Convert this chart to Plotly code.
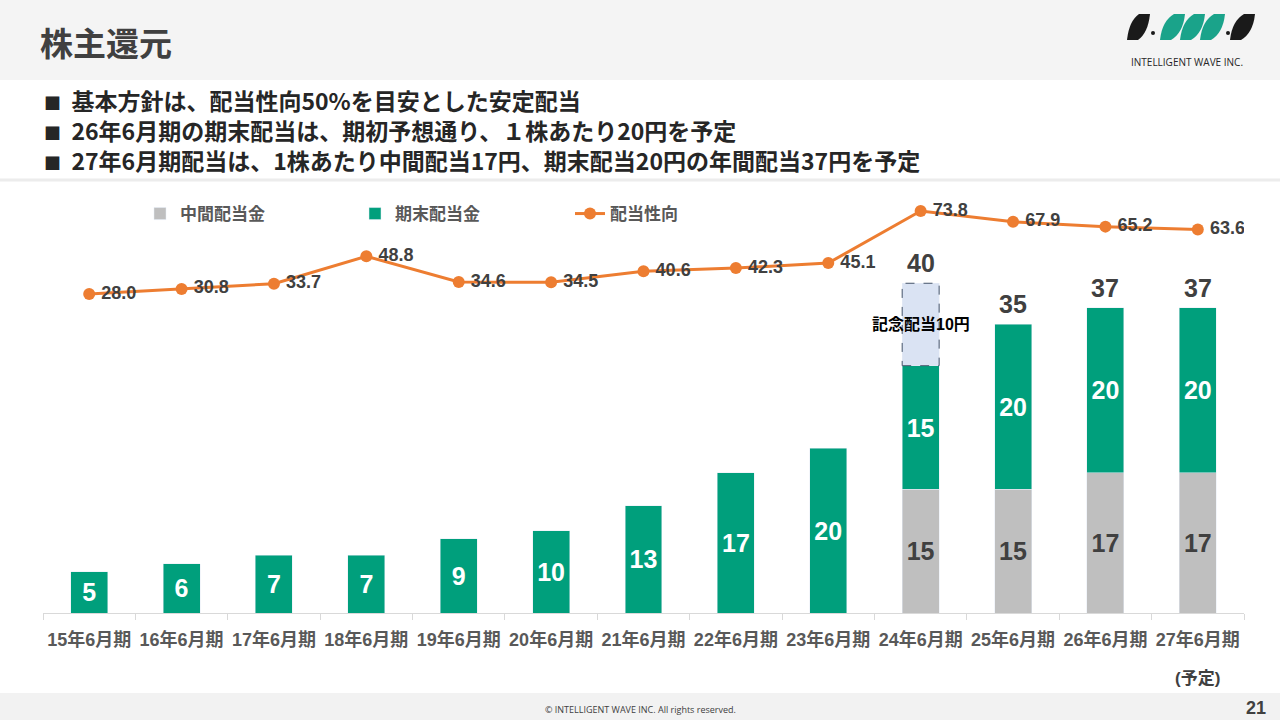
import plotly.graph_objects as go

W, H = 1280, 720

categories = ["15年6月期", "16年6月期", "17年6月期", "18年6月期", "19年6月期", "20年6月期",
              "21年6月期", "22年6月期", "23年6月期", "24年6月期", "25年6月期", "26年6月期", "27年6月期"]
interim = [None, None, None, None, None, None, None, None, None, 15, 15, 17, 17]
year_end = [5, 6, 7, 7, 9, 10, 13, 17, 20, 15, 20, 20, 20]
commemorative = [None, None, None, None, None, None, None, None, None, 10, None, None, None]
payout_ratio = [28.0, 30.8, 33.7, 48.8, 34.6, 34.5, 40.6, 42.3, 45.1, 73.8, 67.9, 65.2, 63.6]
total_labels = [None, None, None, None, None, None, None, None, None, 40, 35, 37, 37]

bullets = [
    "基本方針は、配当性向50%を目安とした安定配当",
    "26年6月期の期末配当は、期初予想通り、１株あたり20円を予定",
    "27年6月期配当は、1株あたり中間配当17円、期末配当20円の年間配当37円を予定",
]

GREEN = "#009f7c"
GRAY = "#bfbfbf"
ORANGE = "#ed7d31"
DARK = "#404040"
NARROW = "Liberation Sans Narrow, Arial Narrow, Liberation Sans, Noto Sans CJK JP"
JP = "Noto Sans CJK JP, Noto Sans, sans-serif"
BAR_W = 0.4


def px(x, y):
    return f"{x / W:.5f},{1 - y / H:.5f}"


def bold(s):
    return f"<b>{s}</b>"


def stacked_tops():
    return [(a or 0) + (b or 0) + (c or 0) for a, b, c in zip(interim, year_end, commemorative)]


fig = go.Figure()

fig.add_bar(
    x=categories, y=interim, name=bold("中間配当金"), marker_color=GRAY, width=BAR_W,
    text=[bold(v) if v else "" for v in interim], textposition="inside",
    insidetextanchor="middle", textfont=dict(size=25, color=DARK, family=NARROW),
    hoverinfo="skip",
)
fig.add_bar(
    x=categories, y=year_end, name=bold("期末配当金"), marker_color=GREEN, width=BAR_W,
    text=[bold(v) for v in year_end], textposition="inside",
    insidetextanchor="middle", textfont=dict(size=25, color="white", family=NARROW),
    hoverinfo="skip",
)
fig.add_bar(
    x=categories, y=commemorative, name="記念配当", marker_color="#dae3f3", width=BAR_W,
    showlegend=False, hoverinfo="skip",
)
fig.add_scatter(
    x=categories, y=payout_ratio, name=bold("配当性向"), yaxis="y2", mode="lines+markers+text",
    line=dict(color=ORANGE, width=3), marker=dict(color=ORANGE, size=12),
    text=[bold(f"\u2009{v:.1f}") for v in payout_ratio], textposition="middle right",
    textfont=dict(size=18, color=DARK, family=NARROW), hoverinfo="skip",
)

shapes = [
    dict(type="rect", xref="paper", yref="paper", x0=0, x1=1, y0=1 - 80 / H, y1=1,
         fillcolor="#f4f4f4", line_width=0, layer="below"),
    dict(type="rect", xref="paper", yref="paper", x0=0, x1=1, y0=0, y1=1 - 693 / H,
         fillcolor="#f2f2f2", line_width=0, layer="below"),
    dict(type="line", xref="paper", yref="paper", x0=0, x1=1, y0=1 - 180 / H, y1=1 - 180 / H,
         line=dict(color="#ececec", width=3), layer="below"),
]

# dashed outline around the commemorative dividend segment
for i, c in enumerate(commemorative):
    if c:
        base = (interim[i] or 0) + year_end[i]
        shapes.append(dict(type="rect", xref="x", yref="y", x0=i - BAR_W / 2, x1=i + BAR_W / 2,
                           y0=base, y1=base + c, line=dict(color="#44546a", width=1, dash="dash")))

# logo marks
logo_leaves = [(1127, 1150, "#1a1a1a"), (1160, 1185, "#1aa38a"), (1180, 1205, "#1aa38a"),
               (1200, 1225, "#1aa38a"), (1230, 1255, "#1a1a1a")]
for xb, xt, color in logo_leaves:
    path = (f"M {px(xb, 40)} Q {px(xb + 2, 21)} {px(xt - 11, 14)} L {px(xt, 14)} "
            f"Q {px(xt - 2, 33)} {px(xb + 11, 40)} Z")
    shapes.append(dict(type="path", xref="paper", yref="paper", path=path,
                       fillcolor=color, line_width=0))
for cx, cy in [(1153, 33), (1228, 33)]:
    shapes.append(dict(type="circle", xref="paper", yref="paper",
                       x0=(cx - 2) / W, x1=(cx + 2) / W, y0=1 - (cy + 2) / H, y1=1 - (cy - 2) / H,
                       fillcolor="#1a1a1a", line_width=0))

square = '<span style="font-size:17px">■</span>'
annotations = [
    dict(text=bold("株主還元"), x=38 / W, y=1 - 42 / H, xanchor="left", yanchor="middle",
         font=dict(size=33, color=DARK, family=JP)),
    dict(text="INTELLIGENT WAVE INC.", x=1187 / W, y=1 - 62 / H, xanchor="center", yanchor="middle",
         font=dict(size=10, color="#262626", family="Open Sans, Liberation Sans")),
    dict(text="© INTELLIGENT WAVE INC. All rights reserved.", x=640 / W, y=1 - 709 / H,
         xanchor="center", yanchor="middle", font=dict(size=9, color=DARK, family="Open Sans")),
    dict(text=bold("21"), x=1268 / W, y=1 - 708 / H, xanchor="right", yanchor="middle",
         font=dict(size=18, color=DARK, family="Liberation Sans")),
    dict(text=bold("(予定)"), x=categories[-1], xref="x", y=1 - 678 / H, xanchor="center",
         yanchor="middle", font=dict(size=17, color=DARK, family=NARROW)),
    dict(text="<br>".join(bold(square + "\u00a0 " + line) for line in bullets), x=42 / W,
         y=1 - 130 / H, xanchor="left", yanchor="middle", align="left",
         font=dict(size=23, color="#262626", family=JP)),
]
tops = stacked_tops()
for i, label in enumerate(total_labels):
    if label:
        annotations.append(dict(text=bold(label), x=categories[i], xref="x", y=tops[i], yref="y",
                                yanchor="middle", yshift=20,
                                font=dict(size=25, color=DARK, family=NARROW)))
for i, c in enumerate(commemorative):
    if c:
        base = (interim[i] or 0) + year_end[i]
        annotations.append(dict(text=bold(f"記念配当{c}円"), x=categories[i], xref="x",
                                y=base + c * 0.5, yref="y",
                                font=dict(size=16, color="black", family=NARROW)))
for a in annotations:
    a.setdefault("xref", "paper")
    a.setdefault("yref", "paper")
    a.setdefault("showarrow", False)

fig.update_layout(
    width=W, height=H, margin=dict(l=0, r=0, t=0, b=0),
    paper_bgcolor="white", plot_bgcolor="white",
    barmode="stack", bargap=0.6,
    xaxis=dict(domain=[43 / W, 1244 / W], range=[-0.5, len(categories) - 0.5],
               showline=True, linecolor="#d9d9d9", linewidth=1,
               ticks="outside", tickson="boundaries", ticklen=6, tickcolor="#d9d9d9",
               ticklabelstandoff=10, showgrid=False, fixedrange=True, tickangle=0,
               tickfont=dict(size=18, color="#595959", family=NARROW),
               tickvals=categories, ticktext=[bold(c) for c in categories]),
    yaxis=dict(domain=[(H - 613) / H, (H - 200) / H], range=[0, 50.1], visible=False),
    yaxis2=dict(overlaying="y", range=[-148.1, 79.9], visible=False),
    legend=dict(orientation="h", traceorder="normal", x=140 / W, xanchor="left",
                y=1 - 214 / H, yanchor="middle",
                entrywidth=170, entrywidthmode="pixels", itemwidth=30,
                font=dict(size=17, color="#595959", family=NARROW), bgcolor="rgba(0,0,0,0)"),
    shapes=shapes, annotations=annotations, showlegend=True,
)

fig.write_html("out.html", config={"displayModeBar": False},
               post_script="document.body.style.margin = '0';")
